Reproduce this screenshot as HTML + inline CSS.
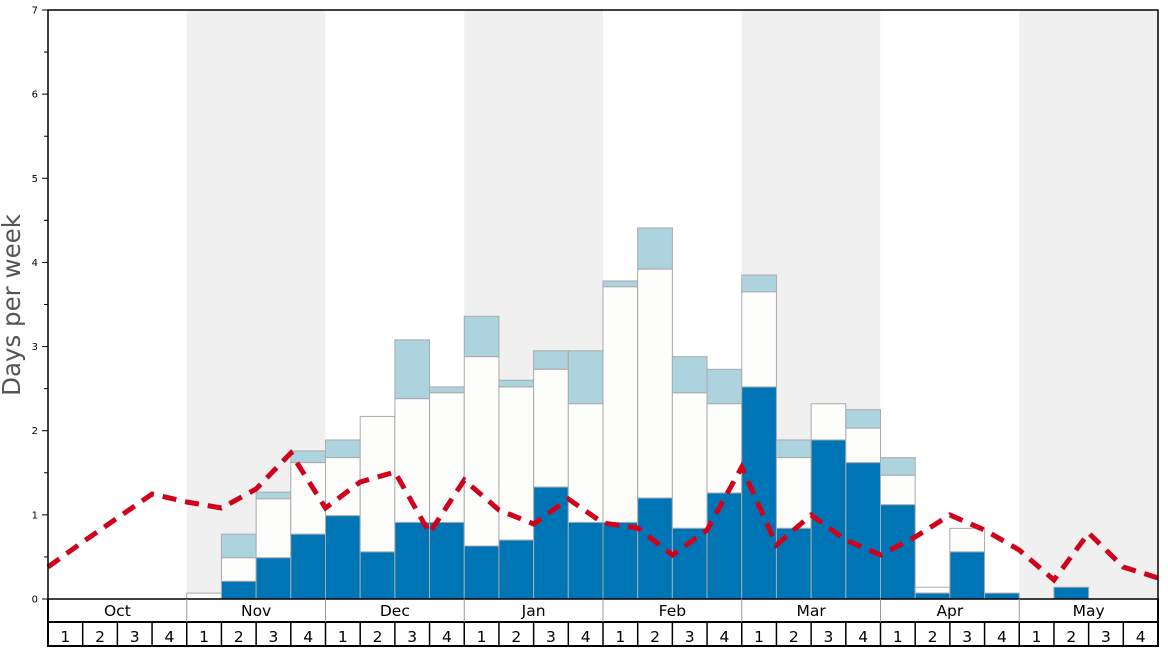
<!DOCTYPE html><html><head><meta charset="utf-8"><style>body{margin:0;background:#fff}svg{display:block;font-family:"DejaVu Sans","Liberation Sans",sans-serif}</style></head><body>
<svg id="s" width="1168" height="648" xmlns="http://www.w3.org/2000/svg"></svg>
<script>
const L=48,R=1158,T=10,B=599,W=(R-L)/32,U=(B-T)/7;
const y=v=>B-v*U;
let h='';
[1,3,5,7].forEach(m=>{h+=`<rect x="${L+m*4*W}" y="${T}" width="${4*W}" height="${B-T}" fill="#f0f0f0"/>`;});
const bars=[[4,0,0.07,0],[5,0.21,0.49,0.77],[6,0.49,1.19,1.27],[7,0.77,1.62,1.76],[8,0.99,1.68,1.89],[9,0.56,2.17,0],[10,0.91,2.38,3.08],[11,0.91,2.45,2.52],[12,0.63,2.88,3.36],[13,0.7,2.52,2.6],[14,1.33,2.73,2.95],[15,0.91,2.32,2.95],[16,0.91,3.71,3.78],[17,1.2,3.92,4.41],[18,0.84,2.45,2.88],[19,1.26,2.32,2.73],[20,2.52,3.65,3.85],[21,0.84,1.68,1.89],[22,1.89,2.32,0],[23,1.62,2.03,2.25],[24,1.12,1.47,1.68],[25,0.07,0.14,0],[26,0.56,0.84,0],[27,0.07,0,0],[29,0.14,0,0]];
bars.forEach(([i,d,w,b])=>{const x=L+i*W;
 if(b>0)h+=`<rect x="${x}" y="${y(b)}" width="${W}" height="${y(Math.max(w,d))-y(b)}" fill="#add3df" stroke="#aaa" stroke-width="1"/>`;
 if(w>0)h+=`<rect x="${x}" y="${y(w)}" width="${W}" height="${y(d)-y(w)}" fill="#fdfdfb" stroke="#aaa" stroke-width="1"/>`;
 if(d>0)h+=`<rect x="${x}" y="${y(d)}" width="${W}" height="${B-y(d)}" fill="#0075b6" stroke="#aaa" stroke-width="1"/>`;
});
const ly=[567,542,518,494,502,508,489,453,508,482,472,533,480,510,524,499,523,528,555,530,467,545,515,540,555,537,515,530,550,580,533,567,578];
h+=`<polyline points="${ly.map((v,i)=>(L+i*W)+','+v).join(' ')}" fill="none" stroke="#d0021b" stroke-width="5" stroke-dasharray="14,9"/>`;
h+=`<rect x="${L}" y="${T}" width="${R-L}" height="${B-T}" fill="none" stroke="#000" stroke-width="1.5"/>`;
for(let v=0;v<=7;v+=0.5){const yy=y(v);h+=`<line x1="${L-(v%1?4:6)}" x2="${L}" y1="${yy}" y2="${yy}" stroke="#000"/>`;if(v%1==0)h+=`<text x="38" y="${yy+3.5}" font-size="10" text-anchor="end">${v}</text>`;}
h+=`<text transform="translate(20,305) rotate(-90)" font-size="24.5" fill="#555" text-anchor="middle">Days per week</text>`;
h+=`<line x1="${L}" x2="${R}" y1="622" y2="622" stroke="#000" stroke-width="2"/><line x1="${L}" x2="${R}" y1="646" y2="646" stroke="#000" stroke-width="2"/>`;
h+=`<line x1="${L}" x2="${L}" y1="${B}" y2="647" stroke="#000" stroke-width="2"/><line x1="${R}" x2="${R}" y1="${B}" y2="647" stroke="#000" stroke-width="2"/>`;
const mn=['Oct','Nov','Dec','Jan','Feb','Mar','Apr','May'];
mn.forEach((m,k)=>{const x=L+k*4*W;if(k)h+=`<line x1="${x}" x2="${x}" y1="${B}" y2="622" stroke="#999"/>`;h+=`<text x="${x+2*W}" y="616" font-size="15.5" text-anchor="middle">${m}</text>`;});
for(let i=0;i<32;i++){const x=L+i*W;if(i)h+=`<line x1="${x}" x2="${x}" y1="622" y2="646" stroke="#000" stroke-width="1.5"/>`;h+=`<text x="${x+W/2}" y="642" font-size="15.5" text-anchor="middle">${i%4+1}</text>`;}
document.getElementById('s').innerHTML=h;
</script></body></html>
